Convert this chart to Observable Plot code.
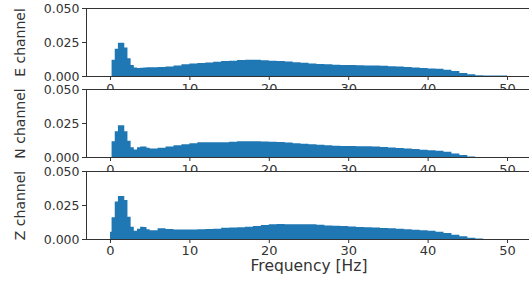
<!DOCTYPE html>
<html>
<head>
<meta charset="utf-8">
<script src="https://cdn.jsdelivr.net/npm/d3@7"></script>
<script src="https://cdn.jsdelivr.net/npm/@observablehq/plot@0.6"></script>
<style>
  html, body { margin: 0; padding: 0; background: white; overflow: hidden; }
  #wrap { position: relative; width: 529px; height: 282px; overflow: hidden; font-family: "DejaVu Sans", sans-serif; }
  .panel { position: absolute; left: 0; }
</style>
</head>
<body>
<div id="wrap"></div>
<script>
// Frequency bins (left edges, Hz)
const freq = [0, 0.2, 0.6, 1.0, 1.4, 1.8, 2.2, 2.6, 3.0, 3.4, 3.8, 4.2, 4.6,
  5, 6, 7, 8, 9, 10, 11, 12, 13, 14, 15, 16, 17, 18, 19, 20, 21, 22, 23, 24, 25,
  26, 27, 28, 29, 30, 31, 32, 33, 34, 35, 36, 37, 38, 39, 40, 41, 42, 43, 44, 45,
  46, 47, 48, 49, 50];

const eChannel = [0, 0.012, 0.020, 0.0245, 0.0245, 0.021, 0.013, 0.008, 0.0062, 0.0058, 0.006, 0.0062, 0.0064,
  0.0065, 0.0067, 0.007, 0.0078, 0.0086, 0.0092, 0.0096, 0.01, 0.0104, 0.011, 0.0112, 0.0118, 0.012, 0.012, 0.0115, 0.0112, 0.011, 0.0107, 0.0102, 0.0097, 0.0092,
  0.0089, 0.0086, 0.0083, 0.0081, 0.008, 0.0079, 0.0078, 0.0077, 0.0076, 0.0072, 0.0069, 0.0066, 0.0062, 0.0059, 0.0056, 0.0053, 0.0046, 0.0036, 0.0022, 0.0012,
  0.0006, 0.0004, 0.0003, 0.0003, 0];

const nChannel = [0, 0.0115, 0.019, 0.0233, 0.0233, 0.019, 0.012, 0.0071, 0.0055, 0.0072, 0.0078, 0.0077, 0.0068,
  0.0062, 0.0068, 0.0078, 0.0086, 0.0094, 0.0102, 0.0108, 0.0108, 0.0108, 0.0109, 0.0112, 0.0115, 0.0115, 0.0115, 0.0114, 0.0113, 0.011, 0.0106, 0.0102, 0.0098, 0.0094,
  0.009, 0.0086, 0.0083, 0.0081, 0.008, 0.0079, 0.0079, 0.0077, 0.0073, 0.007, 0.0066, 0.0062, 0.0058, 0.0054, 0.005, 0.0046, 0.0038, 0.0026, 0.0014, 0.0004,
  0, 0, 0, 0, 0];

const zChannel = [0.0054, 0.016, 0.0275, 0.0316, 0.0316, 0.0287, 0.0164, 0.009, 0.006, 0.0075, 0.009, 0.0088, 0.0072,
  0.0064, 0.0079, 0.0074, 0.007, 0.0069, 0.007, 0.0072, 0.0073, 0.0076, 0.0082, 0.0085, 0.0086, 0.009, 0.0096, 0.0103, 0.0108, 0.011, 0.0108, 0.0108, 0.0108, 0.0108,
  0.0104, 0.01, 0.0098, 0.0095, 0.0091, 0.0088, 0.0086, 0.0084, 0.0081, 0.0079, 0.0075, 0.0071, 0.0068, 0.0064, 0.006, 0.0053, 0.0044, 0.0032, 0.002, 0.001,
  0.0003, 0, 0, 0, 0];

const channelLabels = ["E channel", "N channel", "Z channel"];
const xTicks = [0, 10, 20, 30, 40, 50];
const yTicks = [0, 0.025, 0.05];
const xLabel = "Frequency [Hz]";

const series = [eChannel, nChannel, zChannel];
const tops = [0, 81, 163];
const wrap = document.getElementById("wrap");

series.forEach((vals, i) => {
  const data = freq.map((f, j) => ({f, v: vals[j]}));
  const last = i === 2;
  const marks = [
    Plot.frame({fill: "white", stroke: null}),
    Plot.areaY(data, {x: "f", y: "v", curve: "step-after", fill: "#1f77b4"}),
    Plot.frame({stroke: "#333", strokeWidth: 1}),
    Plot.axisX({ticks: xTicks, tickSize: 4, tickPadding: last ? 2 : 3, fontSize: 13, label: null, stroke: "#333"}),
    Plot.axisY({ticks: yTicks, tickFormat: d3.format(".3f"), tickSize: 4, tickPadding: 3, fontSize: 12.5, label: null}),
    Plot.text([channelLabels[i]], {text: d => d, frameAnchor: "left", textAnchor: "middle", lineAnchor: "middle", rotate: -90, dx: -66, fontSize: 14, fill: "#333"})
  ];
  if (last) {
    marks.push(Plot.text([xLabel], {text: d => d, frameAnchor: "bottom", dy: 31, fontSize: 15.5, fill: "#333"}));
  }
  const chart = Plot.plot({
    width: 529,
    height: last ? 116 : 106,
    marginTop: 8,
    marginBottom: last ? 40 : 30,
    marginLeft: 86,
    marginRight: -2,
    x: {domain: [-3.02, 53.02]},
    y: {domain: [0, 0.05]},
    style: {background: "transparent", overflow: "visible", color: "#333", fontFamily: "DejaVu Sans, sans-serif"},
    marks
  });
  const div = document.createElement("div");
  div.className = "panel";
  div.style.top = tops[i] + "px";
  div.appendChild(chart);
  wrap.appendChild(div);
});
</script>
</body>
</html>
